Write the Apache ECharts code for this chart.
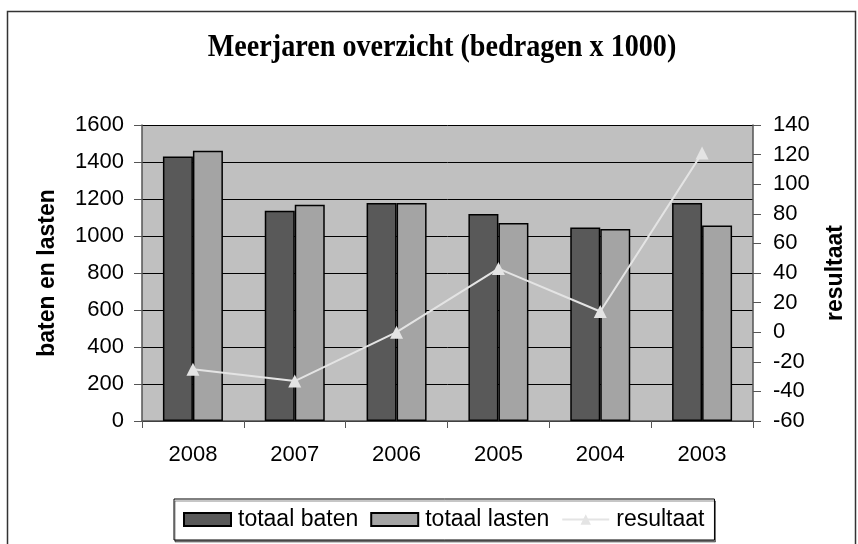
<!DOCTYPE html>
<html>
<head>
<meta charset="utf-8">
<script src="https://cdn.jsdelivr.net/npm/echarts@6/dist/echarts.min.js"></script>
<style>html,body{margin:0;padding:0;background:#fff}#c{width:858px;height:544px}</style>
</head>
<body>
<div id="c"></div>
<script>
const categories = ['2008', '2007', '2006', '2005', '2004', '2003'];
const totaalBaten = [1430, 1137, 1178, 1119, 1046, 1178];
const totaalLasten = [1461, 1169, 1178, 1070, 1038, 1057];
const resultaat = [-25, -33, 0, 43, 14, 121];
const titleText = 'Meerjaren overzicht (bedragen x 1000)';

const chart = echarts.init(document.getElementById('c'));
const sans = 'Liberation Sans, Arial, sans-serif';
const plain = v => String(v);
chart.setOption({
  animation: false,
  backgroundColor: '#ffffff',
  graphic: [{
    type: 'rect', left: 5, top: 9, shape: { width: 848, height: 600 },
    style: { fill: 'none', stroke: '#333', lineWidth: 1.5 }, silent: true, z: -1
  }, {
    type: 'text', x: 442, y: 47.5, scaleX: 0.88, scaleY: 1, silent: true,
    style: {
      text: titleText, align: 'center', verticalAlign: 'middle',
      font: 'bold 32px "Liberation Serif", "Times New Roman", serif', fill: '#000'
    }
  }],
  legend: {
    left: 174, top: 499,
    backgroundColor: '#fff', borderColor: '#000', borderWidth: 1,
    shadowColor: 'rgba(0,0,0,0.45)', shadowOffsetX: 1, shadowOffsetY: 2, shadowBlur: 0,
    padding: [9, 10, 9, 9], itemGap: 12, itemWidth: 47, itemHeight: 13,
    textStyle: { fontFamily: sans, fontSize: 23, color: '#000', padding: [0, 0, 0, 2] },
    data: [{ name: 'totaal baten', icon: 'rect' }, { name: 'totaal lasten', icon: 'rect' }, { name: 'resultaat' }]
  },
  grid: { left: 142, right: 105, top: 125, bottom: 123, show: true, backgroundColor: '#c0c0c0', borderWidth: 0 },
  xAxis: {
    type: 'category', data: categories,
    axisLine: { lineStyle: { color: '#555', width: 1.5 } },
    axisTick: { show: true, length: 7, lineStyle: { color: '#555' } },
    axisLabel: { fontFamily: sans, fontSize: 22, color: '#000', margin: 23 }
  },
  yAxis: [{
    type: 'value', min: 0, max: 1600, interval: 200,
    name: 'baten en lasten', nameLocation: 'middle', nameRotate: 90, nameGap: 83,
    nameTextStyle: { fontFamily: sans, fontSize: 23, fontWeight: 'bold', color: '#000' },
    axisLine: { show: true, lineStyle: { color: '#555', width: 1.5 } },
    axisTick: { show: true, length: 8, lineStyle: { color: '#555' } },
    axisLabel: { fontFamily: sans, fontSize: 22, color: '#000', margin: 18, formatter: plain },
    splitLine: { show: true, lineStyle: { color: '#000', width: 1 } }
  }, {
    type: 'value', min: -60, max: 140, interval: 20, position: 'right',
    name: 'resultaat', nameLocation: 'middle', nameRotate: 90, nameGap: 71,
    nameTextStyle: { fontFamily: sans, fontSize: 23, fontWeight: 'bold', color: '#000' },
    axisLine: { show: true, lineStyle: { color: '#555', width: 1.5 } },
    axisTick: { show: true, length: 8, lineStyle: { color: '#555' } },
    axisLabel: { fontFamily: sans, fontSize: 22, color: '#000', margin: 20, formatter: plain },
    splitLine: { show: false }
  }],
  series: [{
    name: 'totaal baten', type: 'bar', data: totaalBaten, barWidth: 30, barGap: '0%',
    itemStyle: { color: '#595959', borderColor: '#000', borderWidth: 1.5 }
  }, {
    name: 'totaal lasten', type: 'bar', data: totaalLasten, barWidth: 30,
    itemStyle: { color: '#a4a4a4', borderColor: '#000', borderWidth: 1.5 }
  }, {
    name: 'resultaat', type: 'line', yAxisIndex: 1, data: resultaat,
    symbol: 'triangle', symbolSize: 13,
    lineStyle: { color: '#e4e4e4', width: 2 },
    itemStyle: { color: '#e4e4e4' }, z: 5
  }]
});
</script>
</body>
</html>
